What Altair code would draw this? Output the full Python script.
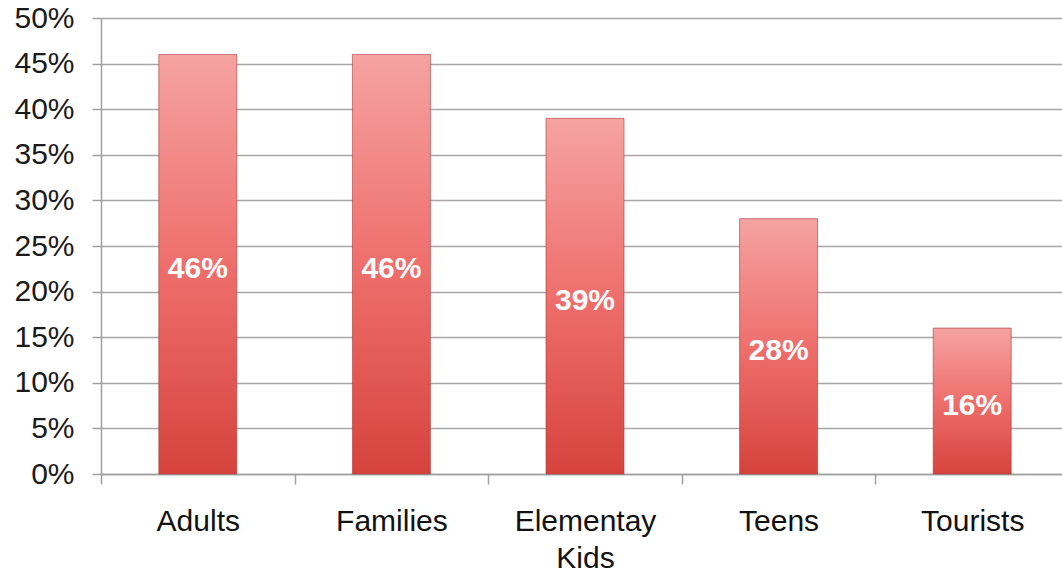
import altair as alt
import pandas as pd

categories = ["Adults", "Families", "Elementay|Kids", "Teens", "Tourists"]
values = [0.46, 0.46, 0.39, 0.28, 0.16]
y_ticks = [0, 0.05, 0.10, 0.15, 0.20, 0.25, 0.30, 0.35, 0.40, 0.45, 0.50]

df = pd.DataFrame({"category": categories, "value": values})

FONT = "Liberation Sans"

x_scale = alt.Scale(range=[0, 968], paddingInner=0, paddingOuter=0)

x_enc = alt.X(
    "category:N",
    sort=categories,
    title=None,
    scale=x_scale,
    axis=alt.Axis(
        labelAngle=0,
        labelExpr="split(datum.label, '|')",
        labelFont=FONT,
        labelFontSize=30,
        labelColor="#111111",
        labelLineHeight=37,
        labelPadding=22,
        labelBaseline="top",
        tickBand="extent",
        tickSize=10,
        tickColor="#a0a0a0",
        tickWidth=1.5,
        domainColor="#a0a0a0",
        domainWidth=1.5,
        grid=False,
    ),
)

y_enc = alt.Y(
    "value:Q",
    title=None,
    scale=alt.Scale(domain=[0, 0.5], nice=False),
    axis=alt.Axis(
        values=y_ticks,
        format=".0%",
        labelFont=FONT,
        labelFontSize=30,
        labelColor="#1a1a1a",
        labelPadding=18,
        tickSize=9,
        tickColor="#a0a0a0",
        tickWidth=1.5,
        domainColor="#a0a0a0",
        domainWidth=1.5,
        gridColor="#a6a6a6",
        gridWidth=1.5,
    ),
)

bars = alt.Chart(df).mark_bar(
    size=78,
    stroke="#a83a36",
    strokeWidth=1,
    strokeOpacity=0.6,
    color=alt.Gradient(
        gradient="linear",
        x1=0, x2=0, y1=0, y2=1,
        stops=[
            alt.GradientStop(color="#f5a3a2", offset=0),
            alt.GradientStop(color="#ee6f6c", offset=0.5),
            alt.GradientStop(color="#d6433d", offset=1),
        ],
    ),
).encode(x=x_enc, y=y_enc)

labels = alt.Chart(df).transform_calculate(
    mid="datum.value / 2",
    lab="format(datum.value, '.0%')",
).mark_text(
    font=FONT,
    fontSize=30,
    fontWeight="bold",
    color="white",
    baseline="middle",
    align="center",
    dy=5,
).encode(
    x=alt.X("category:N", sort=categories, scale=x_scale),
    y=alt.Y("mid:Q"),
    text="lab:N",
)

chart = alt.layer(bars, labels).properties(
    width=961,
    height=456,
    autosize=alt.AutoSizeParams(type="none"),
    padding={"left": 101, "top": 18, "right": 0, "bottom": 99},
).configure_view(stroke=None).configure(background="white")

chart.save("out.html", embed_options={"renderer": "svg", "actions": False})
